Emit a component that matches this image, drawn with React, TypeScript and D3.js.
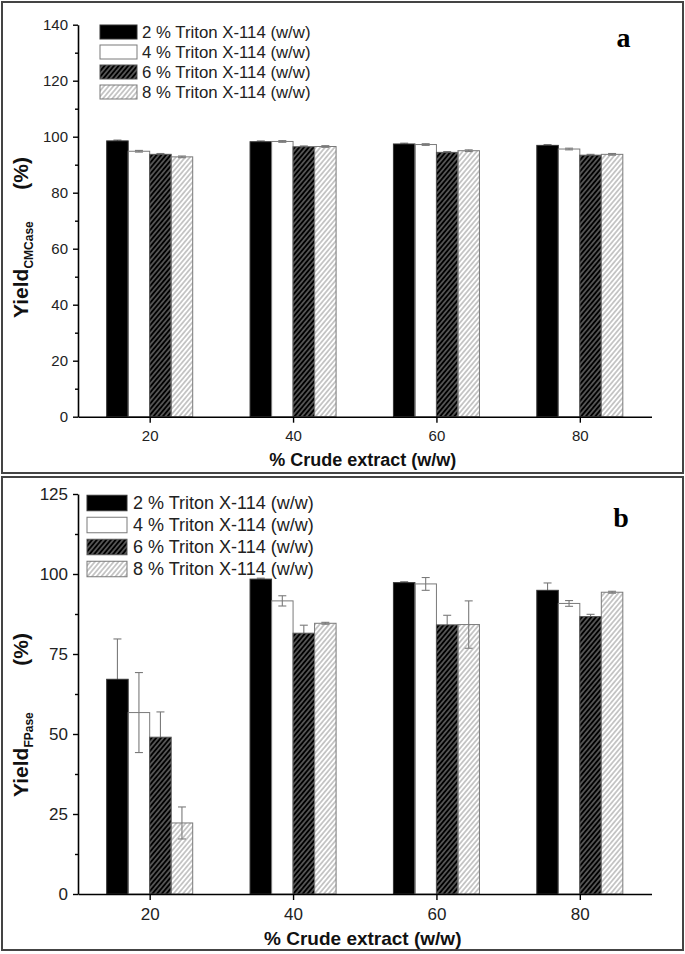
import React, { useEffect, useRef } from "react";
import * as d3 from "d3";

// ---------- data ----------
const categories = [20, 40, 60, 80];
const xTickValues = [20, 40, 60, 80];
const seriesLabels = [
  "2 % Triton X-114 (w/w)",
  "4 % Triton X-114 (w/w)",
  "6 % Triton X-114 (w/w)",
  "8 % Triton X-114 (w/w)",
];

// Panel a: Yield CMCase (%)
const cmcaseTriton2 = [98.5, 98.2, 97.4, 96.9];
const cmcaseTriton4 = [94.8, 98.3, 97.2, 95.6];
const cmcaseTriton6 = [93.7, 96.4, 94.4, 93.4];
const cmcaseTriton8 = [92.8, 96.5, 95.0, 93.7];
const cmcaseErr2 = [0.3, 0.3, 0.3, 0.3];
const cmcaseErr4 = [0.3, 0.3, 0.3, 0.3];
const cmcaseErr6 = [0.3, 0.3, 0.3, 0.3];
const cmcaseErr8 = [0.3, 0.3, 0.3, 0.3];

// Panel b: Yield FPase (%)
const fpaseTriton2 = [67.1, 98.4, 97.3, 94.9];
const fpaseTriton4 = [56.7, 91.6, 96.9, 90.8];
const fpaseTriton6 = [49.0, 81.5, 84.1, 86.7];
const fpaseTriton8 = [22.2, 84.6, 84.2, 94.3];
const fpaseErr2 = [12.6, 0.3, 0.3, 2.3];
const fpaseErr4 = [12.5, 1.6, 2.0, 0.9];
const fpaseErr6 = [7.9, 2.5, 3.0, 0.7];
const fpaseErr8 = [5.0, 0.3, 7.4, 0.3];

const yTicksA = [0, 20, 40, 60, 80, 100, 120, 140];
const yMinorA = [10, 30, 50, 70, 90, 110, 130];
const yTicksB = [0, 25, 50, 75, 100, 125];
const yMinorB = [12.5, 37.5, 62.5, 87.5, 112.5];

// ---------- styles ----------
const SANS = "'Liberation Sans', Arial, Helvetica, sans-serif";
const SERIF = "'Liberation Serif', 'Times New Roman', serif";
const fills = ["#000", "none", "url(#hatchDark)", "url(#hatchLight)"];
const strokes = ["#333", "#7a7a7a", "#555", "#7a7a7a"];
const swatchFills = ["#000", "#fff", "url(#hatchDark)", "url(#hatchLight)"];
const ERR = "#7a7a7a";
const BAR_W = 3;

const xScale = d3.scaleLinear().domain([10, 90]).range([78, 651.5]);

type PanelProps = {
  yDomain: [number, number];
  yRange: [number, number];
  yTicks: number[];
  yMinor: number[];
  values: number[][];
  errs: number[][];
  tickFont: number;
  legend: { x: number; w: number; h: number; rows: number[]; textX: number; font: number };
  yLabel: { main: string; sub: string; bottom: number; top: number; x: number };
  xLabelY: number;
  xLabelFont: number;
  letter: string;
  letterPos: [number, number];
};

function Panel(p: PanelProps) {
  const y = d3.scaleLinear().domain(p.yDomain).range(p.yRange);
  const xRef = useRef<SVGGElement>(null);
  const yRef = useRef<SVGGElement>(null);
  const yMinRef = useRef<SVGGElement>(null);

  useEffect(() => {
    const style = (g: d3.Selection<SVGGElement, unknown, null, undefined>) => {
      g.select(".domain").attr("stroke", "#000").attr("stroke-width", 1.6);
      g.selectAll(".tick line").attr("stroke", "#000").attr("stroke-width", 1.4);
      g.selectAll(".tick text")
        .attr("font-size", p.tickFont)
        .attr("font-family", SANS)
        .attr("fill", "#222");
    };
    const gx = d3.select(xRef.current!);
    gx.call(
      d3.axisBottom(xScale).tickValues(xTickValues).tickSize(6).tickSizeOuter(0).tickPadding(8).tickFormat(d3.format("d"))
    );
    style(gx);
    const gy = d3.select(yRef.current!);
    gy.call(d3.axisLeft(y).tickValues(p.yTicks).tickSize(5).tickSizeOuter(0).tickPadding(5).tickFormat(d3.format("d")));
    style(gy);
    const gm = d3.select(yMinRef.current!);
    gm.call(d3.axisLeft(y).tickValues(p.yMinor).tickSize(3).tickSizeOuter(0).tickFormat(() => ""));
    gm.select(".domain").remove();
    gm.selectAll(".tick line").attr("stroke", "#000").attr("stroke-width", 1.4);
  }, []);

  const y0 = y(0);
  const bw = xScale(BAR_W) - xScale(0);

  return (
    <g>
      {/* error bars (drawn behind bars) */}
      {p.values.map((series, si) =>
        series.map((v, ci) => {
          const cx = xScale(categories[ci] - 2 * BAR_W + BAR_W * si + BAR_W / 2);
          const e = p.errs[si][ci];
          const yt = y(v + e);
          const yb = y(v - e);
          return (
            <g key={`e${si}-${ci}`} stroke={ERR} strokeWidth={1.1}>
              <line x1={cx} x2={cx} y1={yt} y2={yb} />
              <line x1={cx - 4} x2={cx + 4} y1={yt} y2={yt} />
              <line x1={cx - 4} x2={cx + 4} y1={yb} y2={yb} />
            </g>
          );
        })
      )}
      {/* bars */}
      {p.values.map((series, si) =>
        series.map((v, ci) => {
          const xl = xScale(categories[ci] - 2 * BAR_W + BAR_W * si);
          return (
            <rect
              key={`b${si}-${ci}`}
              x={xl}
              y={y(v)}
              width={bw}
              height={y0 - y(v)}
              fill={fills[si]}
              stroke={strokes[si]}
              strokeWidth={1}
            />
          );
        })
      )}
      <g ref={yMinRef} transform={`translate(${xScale(10)},0)`} />
      <g ref={yRef} transform={`translate(${xScale(10)},0)`} />
      <g ref={xRef} transform={`translate(0,${y0})`} />

      {/* legend */}
      {seriesLabels.map((lab, i) => (
        <g key={`l${i}`}>
          <rect
            x={p.legend.x}
            y={p.legend.rows[i] - p.legend.h / 2}
            width={p.legend.w}
            height={p.legend.h}
            fill={swatchFills[i]}
            stroke={strokes[i]}
            strokeWidth={1}
          />
          <text
            x={p.legend.textX}
            y={p.legend.rows[i]}
            dy="0.35em"
            fontSize={p.legend.font}
            fontFamily={SANS}
            fill="#222"
          >
            {lab}
          </text>
        </g>
      ))}

      {/* y label */}
      <text
        transform={`translate(${p.yLabel.x},${p.yLabel.bottom}) rotate(-90)`}
        fontFamily={SANS}
        fontWeight="bold"
        fill="#111"
      >
        <tspan fontSize={21}>{p.yLabel.main}</tspan>
        <tspan fontSize={12} dy={5}>
          {p.yLabel.sub}
        </tspan>
      </text>
      <text
        transform={`translate(${p.yLabel.x},${p.yLabel.top}) rotate(-90)`}
        fontFamily={SANS}
        fontWeight="bold"
        fontSize={21}
        textAnchor="end"
        fill="#111"
      >
        (%)
      </text>

      {/* x label */}
      <text
        x={(xScale(10) + xScale(90)) / 2 - 2}
        y={p.xLabelY}
        textAnchor="middle"
        fontFamily={SANS}
        fontWeight="bold"
        fontSize={p.xLabelFont}
        fill="#111"
      >
        % Crude extract (w/w)
      </text>

      {/* panel letter */}
      <text
        x={p.letterPos[0]}
        y={p.letterPos[1]}
        textAnchor="middle"
        fontFamily={SERIF}
        fontWeight="bold"
        fontSize={28}
        fill="#000"
      >
        {p.letter}
      </text>
    </g>
  );
}

export default function App() {
  return (
    <div style={{ position: "absolute", left: 0, top: 0, background: "#fff" }}>
      <svg width={685} height={954} viewBox="0 0 685 954" style={{ display: "block" }}>
        <defs>
          <pattern id="hatchDark" patternUnits="userSpaceOnUse" width={3.6} height={3.6} patternTransform="rotate(40)">
            <rect width={3.6} height={3.6} fill="#000" />
            <line x1={1.8} y1={0} x2={1.8} y2={3.6} stroke="#a8a8a8" strokeWidth={0.9} />
          </pattern>
          <pattern id="hatchLight" patternUnits="userSpaceOnUse" width={3.6} height={3.6} patternTransform="rotate(40)">
            <line x1={1.8} y1={0} x2={1.8} y2={3.6} stroke="#8a8a8a" strokeWidth={0.9} />
          </pattern>
        </defs>
        <rect x={0} y={0} width={685} height={954} fill="#fff" />
        <rect x={2} y={2} width={681} height={471} fill="none" stroke="#444" strokeWidth={2} />
        <rect x={2} y={477} width={681} height={473} fill="none" stroke="#444" strokeWidth={2} />

        <Panel
          yDomain={[0, 140]}
          yRange={[416.7, 24.7]}
          yTicks={yTicksA}
          yMinor={yMinorA}
          values={[cmcaseTriton2, cmcaseTriton4, cmcaseTriton6, cmcaseTriton8]}
          errs={[cmcaseErr2, cmcaseErr4, cmcaseErr6, cmcaseErr8]}
          tickFont={15}
          legend={{ x: 100, w: 37, h: 14, rows: [32, 52, 72, 92], textX: 142, font: 16.8 }}
          yLabel={{ main: "Yield", sub: "CMCase", bottom: 318, top: 157, x: 28 }}
          xLabelY={466}
          xLabelFont={18}
          letter="a"
          letterPos={[623.5, 47]}
        />
        <Panel
          yDomain={[0, 125]}
          yRange={[894, 494]}
          yTicks={yTicksB}
          yMinor={yMinorB}
          values={[fpaseTriton2, fpaseTriton4, fpaseTriton6, fpaseTriton8]}
          errs={[fpaseErr2, fpaseErr4, fpaseErr6, fpaseErr8]}
          tickFont={17}
          legend={{ x: 87, w: 40, h: 15.5, rows: [503, 525, 547, 569], textX: 133, font: 18 }}
          yLabel={{ main: "Yield", sub: "FPase", bottom: 797, top: 633, x: 28 }}
          xLabelY={945}
          xLabelFont={19}
          letter="b"
          letterPos={[621, 527]}
        />
      </svg>
    </div>
  );
}
